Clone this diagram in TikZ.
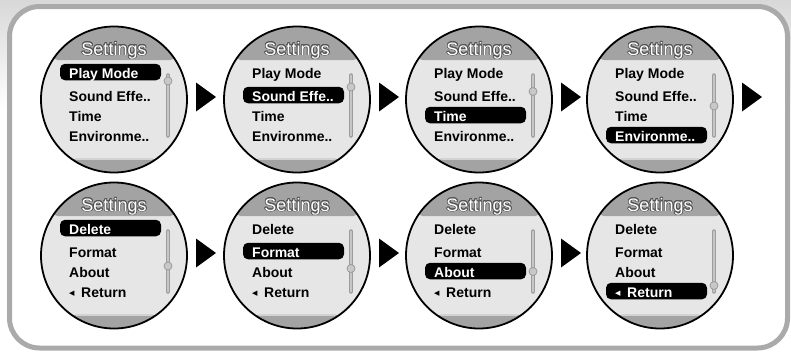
\documentclass[tikz,border=0pt]{standalone}
\usepackage{fontspec}
\setmainfont{Liberation Sans}
\newfontfamily\symfont{DejaVu Sans}
\usepackage[copies]{contour}
\contourlength{0.8pt}
\definecolor{bandgray}{HTML}{A3A3A3}
\definecolor{screenfill}{HTML}{E6E6E6}
\definecolor{framegray}{HTML}{AAAAAA}
\definecolor{titleshade}{HTML}{555555}
\definecolor{tablight}{HTML}{D2D2D2}
\definecolor{scrolldark}{HTML}{9C9C9C}
\definecolor{scrolllight}{HTML}{C6C6C6}
\definecolor{knobfill}{HTML}{C8C8C8}
\definecolor{topgray}{HTML}{D8D8D8}
\tikzset{
  screen/.style={circle, draw=black, line width=1.8pt, minimum size=146pt, inner sep=0pt},
  item/.style={anchor=base west, inner sep=0pt, font=\bfseries\fontsize{14}{14}\selectfont},
  selbar/.style={fill=black, rounded corners=5pt},
  arrowtri/.style={fill=black},
  titletext/.style={inner sep=0pt, anchor=base, text=white, font=\fontsize{18}{18}\selectfont},
  scrollouter/.style={draw=scrolldark, line width=4.5pt, line cap=round},
  scrollinner/.style={draw=scrolllight, line width=2pt, line cap=round},
  knob/.style={circle, fill=knobfill, draw=scrolldark, line width=0.8pt, minimum size=8pt, inner sep=0pt},
}
\newcommand\retmark{\makebox[12pt][l]{\raisebox{1.8pt}{\symfont\fontsize{7}{7}\selectfont ◀}}}
\newcommand\menuitem[5]{%
  \ifnum#4=#5\relax
    \fill[selbar] (-54,#2-14.7) rectangle (47,#2+1.8);
    \node[item,text=white] (#1) at (-45,#2) {#3};
  \else
    \node[item] (#1) at (-45,#2) {#3};
  \fi}
\newcommand\drawscreen[9]{%
  \begin{scope}[shift={(#2,#3)}]
    \fill[screenfill] (0,0) circle (73);
    \begin{scope}
      \clip (0,0) circle (73);
      \fill[bandgray, rounded corners=5] (-61.5,-80) rectangle (61.5,-39.5);
      \fill[bandgray] (-80,59) rectangle (80,80);
      \draw[tablight, line width=2pt, line cap=round] (-38,59) -- (38,59);
    \end{scope}
    \node[titletext] (#1-title) at (0,-44.5) {\contour{titleshade}{Settings}};
    \menuitem{#1-i1}{-21}{#4}{1}{#8}
    \menuitem{#1-i2}{2}{#5}{2}{#8}
    \menuitem{#1-i3}{22}{#6}{3}{#8}
    \menuitem{#1-i4}{42}{#7}{4}{#8}
    \draw[scrollouter] (54,-24) -- (54,36);
    \draw[scrollinner] (54,-24) -- (54,36);
    \node[knob] (#1-knob) at (54,#9) {};
    \node[screen] (#1) at (0,0) {};
  \end{scope}}
\newcommand\nextarrow[2]{%
  \fill[arrowtri] (#1+82,#2-17) -- (#1+102,#2-2.5) -- (#1+82,#2+12) -- cycle;}
\begin{document}
\begin{tikzpicture}[x=1pt,y=-1pt]
  \useasboundingbox (0,0) rectangle (791,351);
  \shade[top color=topgray, bottom color=white] (0,0) rectangle (791,110);
  \draw[framegray, line width=5pt, rounded corners=30pt, fill=white] (9.5,6.5) rectangle (787.5,348);
  % row 1
  \drawscreen{a1}{114}{99.5}{Play Mode}{Sound Effe..}{Time}{Environme..}{1}{-18.5}
  \drawscreen{a2}{297}{99.5}{Play Mode}{Sound Effe..}{Time}{Environme..}{2}{-12.5}
  \drawscreen{a3}{479}{99.5}{Play Mode}{Sound Effe..}{Time}{Environme..}{3}{-8}
  \drawscreen{a4}{660}{99.5}{Play Mode}{Sound Effe..}{Time}{Environme..}{4}{6.5}
  \nextarrow{114}{99.5}
  \nextarrow{297}{99.5}
  \nextarrow{479}{99.5}
  \nextarrow{660}{99.5}
  % row 2
  \drawscreen{b1}{114}{255.5}{Delete}{Format}{About}{\retmark Return}{1}{10.5}
  \drawscreen{b2}{297}{255.5}{Delete}{Format}{About}{\retmark Return}{2}{13}
  \drawscreen{b3}{479}{255.5}{Delete}{Format}{About}{\retmark Return}{3}{16}
  \drawscreen{b4}{660}{255.5}{Delete}{Format}{About}{\retmark Return}{4}{30}
  \nextarrow{114}{255.5}
  \nextarrow{297}{255.5}
  \nextarrow{479}{255.5}
\end{tikzpicture}
\end{document}
